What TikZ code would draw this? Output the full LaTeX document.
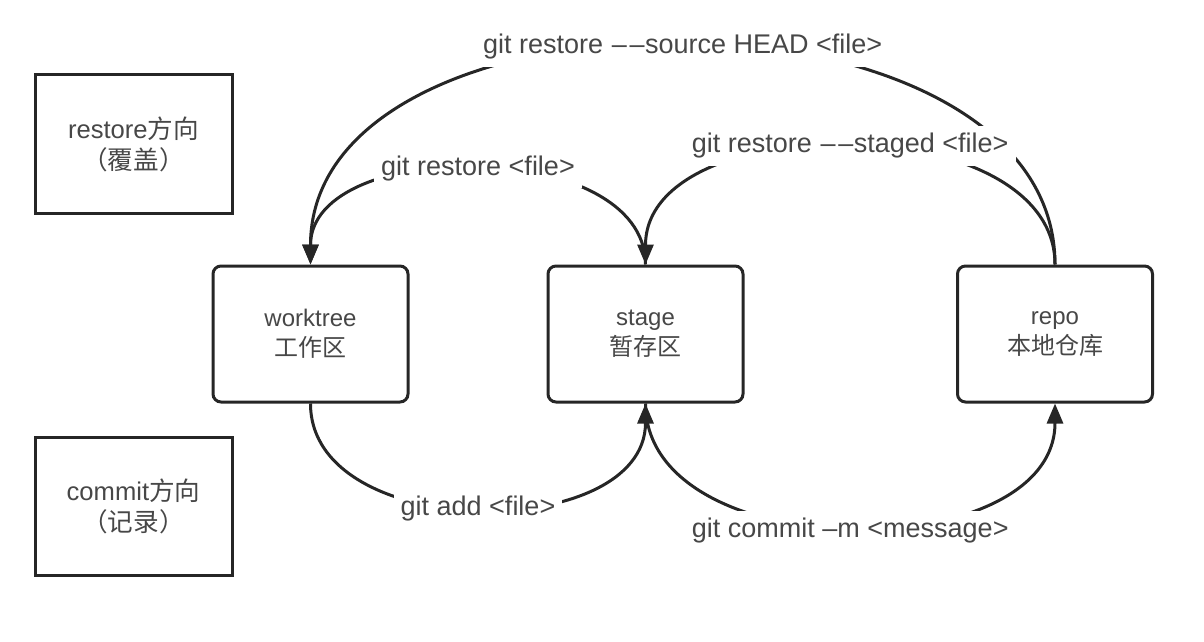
\documentclass[tikz,border=0pt]{standalone}
\usepackage{fontspec}
\setmainfont{Liberation Sans}
\newfontfamily\cjk{Noto Sans CJK SC}
\usetikzlibrary{arrows.meta}
\newcommand\dd{\kern0.6pt–\kern1.4pt–\kern0.2pt}
\tikzset{
  area/.style={draw=black!85, line width=1.5pt, rounded corners=4pt,
    minimum width=97.5pt, minimum height=68pt, align=center,
    font=\fontsize{12}{15}\selectfont, text=black!72},
  legend/.style={area, rounded corners=0pt, minimum width=98.5pt, minimum height=69pt,
    font=\fontsize{12.8}{15.5}\selectfont},
  flow/.style={draw=black!85, line width=1.5pt, -{Triangle[length=10pt,width=8pt]}},
  cmd/.style={fill=white, inner sep=3.5pt, font=\fontsize{13.5}{16}\selectfont, text=black!72}
}
\begin{document}
\begin{tikzpicture}[x=0.5pt,y=-0.5pt]
\useasboundingbox (0,0) rectangle (1204,642);
% legend
\node[legend] (rst) at (133.5,144) {restore{\cjk 方向}\\{\cjk （覆盖）}};
\node[legend] (cmt) at (133.5,506) {commit{\cjk 方向}\\{\cjk （记录）}};
% areas
\node[area] (wt) at (310.5,334) {worktree\\{\cjk 工作区}};
\node[area] (stg) at (645.5,334) {stage\\{\cjk 暂存区}};
\node[area] (repo) at (1055,334) {repo\\{\cjk 本地仓库}};
% restore
\draw[flow] (repo.north) .. controls +(0,-294) and +(0,-294) .. node[cmd, yshift=-1.5pt] {git restore \dd source HEAD <file>} (wt.north);
\draw[flow] (repo.north) .. controls +(0,-158) and +(0,-158) .. node[cmd] {git restore \dd staged <file>} (stg.north);
\draw[flow] (stg.north) .. controls +(0,-128) and +(0,-128) .. node[cmd] {git restore <file>} (wt.north);
% commit
\draw[flow] (wt.south) .. controls +(0,140) and +(0,140) .. node[cmd] {git add <file>} (stg.south);
\draw[flow] (stg.south) .. controls +(0,165) and +(0,165) .. node[cmd, yshift=-1.5pt] {git commit –m <message>} (repo.south);
\end{tikzpicture}
\end{document}
